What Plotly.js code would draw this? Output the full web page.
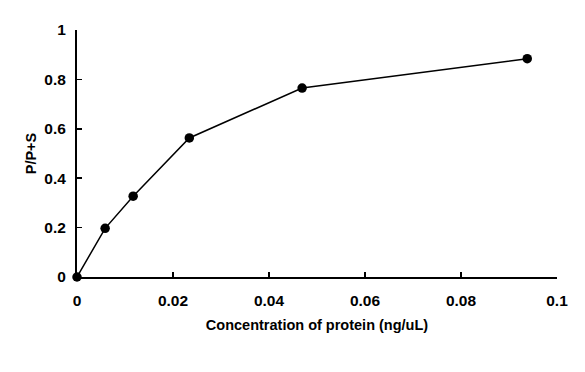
<!DOCTYPE html>
<html>
<head>
<meta charset="utf-8">
<script src="https://cdn.plot.ly/plotly-3.0.1.min.js"></script>
<style>html,body{margin:0;padding:0;background:#fff;}#chart{width:585px;height:372px;}</style>
</head>
<body>
<div id="chart"></div>
<script>
const concentration = [0, 0.00586, 0.0117, 0.0234, 0.0469, 0.0938];
const ratio = [0, 0.197, 0.327, 0.563, 0.765, 0.884];
const xTicks = [0, 0.02, 0.04, 0.06, 0.08, 0.1];
const xTickLabels = ['0', '0.02', '0.04', '0.06', '0.08', '0.1'];
const yTicks = [0, 0.2, 0.4, 0.6, 0.8, 1];
const yTickLabels = ['0', '0.2', '0.4', '0.6', '0.8', '1'];

const bold = s => '<b>' + s + '</b>';
const tickFont = {family: 'Liberation Sans, Arial, sans-serif', size: 15.5, color: '#000', weight: 700};
const titleFont = {family: 'Liberation Sans, Arial, sans-serif', size: 14.5, color: '#000', weight: 700};

Plotly.newPlot('chart', [{
  x: concentration,
  y: ratio,
  type: 'scatter',
  mode: 'lines+markers',
  line: {color: '#000', width: 1.5},
  marker: {color: '#000', size: 9.5},
  cliponaxis: false
}], {
  width: 585, height: 372,
  margin: {l: 77, r: 28, t: 30, b: 95},
  paper_bgcolor: '#fff', plot_bgcolor: '#fff',
  showlegend: false,
  font: titleFont,
  xaxis: {
    range: [0, 0.1], tickvals: xTicks, ticktext: xTickLabels.map(bold),
    showgrid: false, zeroline: false, showline: true, linecolor: '#000', linewidth: 2,
    ticks: 'inside', ticklen: 5, tickwidth: 1.5, tickcolor: '#000',
    tickfont: tickFont, ticklabelstandoff: 8,
    title: {text: bold('Concentration of protein (ng/uL)'), font: titleFont, standoff: 12}
  },
  yaxis: {
    range: [0, 1], tickvals: yTicks, ticktext: yTickLabels.map(bold),
    showgrid: false, zeroline: false, showline: true, linecolor: '#000', linewidth: 2,
    ticks: 'inside', ticklen: 5, tickwidth: 1.5, tickcolor: '#000',
    tickfont: tickFont, ticklabelstandoff: 6,
    title: {text: bold('P/P+S'), font: titleFont, standoff: 4}
  }
}, {displayModeBar: false, staticPlot: true});
</script>
</body>
</html>
